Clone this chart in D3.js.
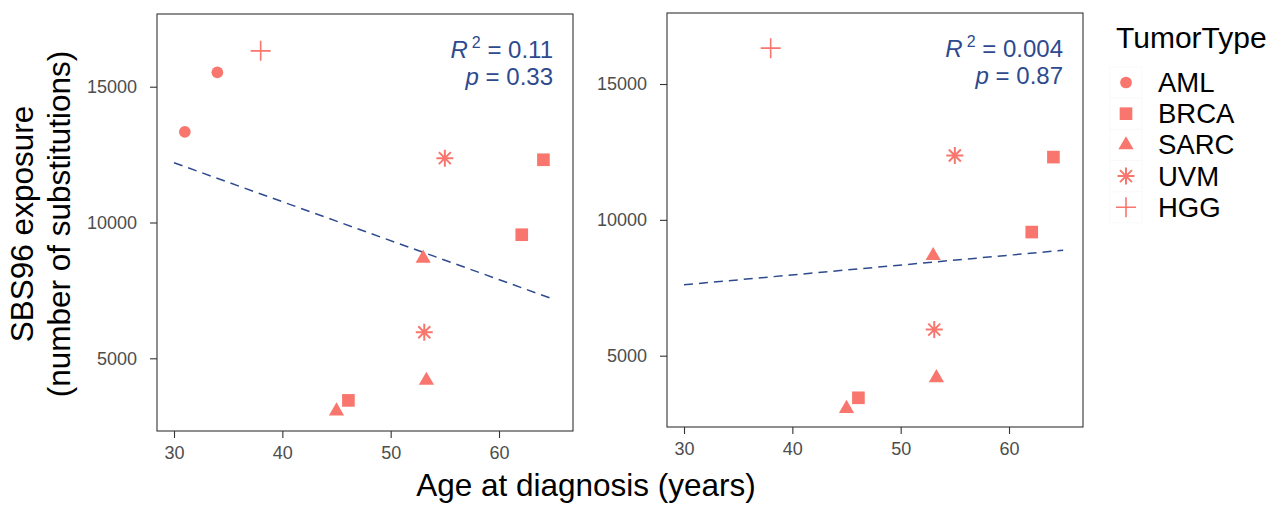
<!DOCTYPE html>
<html>
<head>
<meta charset="utf-8">
<script src="https://cdn.jsdelivr.net/npm/d3@7"></script>
<style>
  body { margin: 0; background: #fff; }
  text { font-family: "Liberation Sans", Arial, sans-serif; }
</style>
</head>
<body>
<div id="chart"></div>
<script>
// data
const age = [31, 34, 38, 55, 64.1, 62.1, 53, 53.1, 53.3, 46.1, 45];
const exposure = [13340, 15530, 16320, 12370, 12310, 9550, 8680, 5960, 4185, 3450, 3055];
const tumorType = ["AML", "AML", "HGG", "UVM", "BRCA", "BRCA", "SARC", "UVM", "SARC", "BRCA", "SARC"];
const legendTypes = ["AML", "BRCA", "SARC", "UVM", "HGG"];
const xTicks = [30, 40, 50, 60];
const yTicks = [5000, 10000, 15000];
const fitAge = [30, 65];
const fitLeft = [12200, 7180];
const fitRight = [7610, 8880];
const statsLeft = ["0.11", "0.33"];
const statsRight = ["0.004", "0.87"];

const width = 1281;
const height = 506;
const pointColor = "#F8766D";
const lineColor = "#2E4A8E";

const svg = d3.select("#chart")
  .append("svg")
  .attr("width", width)
  .attr("height", height);

// symbol for each tumor type
const symbolPath = function(type) {
  if (type === "AML") return d3.symbol(d3.symbolCircle, 108)();
  if (type === "BRCA") return d3.symbol(d3.symbolSquare, 160)();
  if (type === "SARC") return d3.symbol(d3.symbolTriangle, 100)();
  if (type === "UVM") return "M-8.5,0H8.5M0,-8.5V8.5M-6,-6L6,6M-6,6L6,-6";
  return "M-10,0H10M0,-10V10";
};
const isLine = (type) => type === "UVM" || type === "HGG";

const drawSymbol = function(sel) {
  sel.attr("d", (d) => symbolPath(d))
    .attr("fill", (d) => isLine(d) ? "none" : pointColor)
    .attr("stroke", (d) => isLine(d) ? pointColor : "none")
    .attr("stroke-width", (d) => d === "UVM" ? 2 : 1.6);
};

// one facet panel
function drawPanel(box, yDomain, rows, fit, stats) {
  const x = d3.scaleLinear().domain([28.43, 66.83]).range([box.left, box.right]);
  const y = d3.scaleLinear().domain(yDomain).range([box.bottom, box.top]);

  const g = svg.append("g");

  g.append("rect")
    .attr("x", box.left).attr("y", box.top)
    .attr("width", box.right - box.left).attr("height", box.bottom - box.top)
    .attr("fill", "#fff").attr("stroke", "#333").attr("stroke-width", 1.1);

  const xAxis = g.append("g")
    .attr("transform", `translate(0,${box.bottom})`)
    .call(d3.axisBottom(x).tickValues(xTicks).tickSize(7).tickPadding(8).tickFormat(d3.format("d")));
  const yAxis = g.append("g")
    .attr("transform", `translate(${box.left},0)`)
    .call(d3.axisLeft(y).tickValues(yTicks).tickSize(7).tickPadding(13).tickFormat(d3.format("d")));

  [xAxis, yAxis].forEach((a) => {
    a.select(".domain").remove();
    a.selectAll(".tick line").attr("stroke", "#333").attr("stroke-width", 1.1);
    a.selectAll(".tick text").attr("fill", "#4D4D4D").attr("font-size", "18px")
      .attr("font-family", "Liberation Sans, Arial, sans-serif");
  });

  // regression line
  g.append("line")
    .attr("x1", x(fitAge[0])).attr("y1", y(fit[0]))
    .attr("x2", x(fitAge[1])).attr("y2", y(fit[1]))
    .attr("stroke", lineColor).attr("stroke-width", 1.5)
    .attr("stroke-dasharray", "9,6");

  // points
  g.selectAll(".pt")
    .data(rows)
    .enter()
    .append("path")
    .attr("class", "pt")
    .attr("transform", (i) => `translate(${x(age[i])},${y(exposure[i])})`)
    .datum((i) => tumorType[i])
    .call(drawSymbol);

  // R2 and p annotation
  const t1 = g.append("text")
    .attr("x", box.right - 20).attr("y", box.top + 44)
    .attr("text-anchor", "end").attr("font-size", "24px").attr("fill", lineColor);
  t1.append("tspan").attr("font-style", "italic").text("R");
  t1.append("tspan").attr("font-size", "16px").attr("dy", -10).attr("dx", 4).text("2");
  t1.append("tspan").attr("dy", 10).text(" = " + stats[0]);

  const t2 = g.append("text")
    .attr("x", box.right - 20).attr("y", box.top + 71)
    .attr("text-anchor", "end").attr("font-size", "24px").attr("fill", lineColor);
  t2.append("tspan").attr("font-style", "italic").text("p");
  t2.append("tspan").text(" = " + stats[1]);
}

const allRows = d3.range(age.length);
drawPanel({left: 157, right: 573, top: 14, bottom: 431}, [2323, 17677], allRows, fitLeft, statsLeft);
drawPanel({left: 667, right: 1083, top: 13, bottom: 427}, [2375, 17614],
  allRows.filter((i) => tumorType[i] !== "AML"), fitRight, statsRight);

// axis titles
svg.append("text")
  .attr("x", 586).attr("y", 496)
  .attr("text-anchor", "middle").attr("font-size", "31.5px").attr("fill", "#000")
  .text("Age at diagnosis (years)");

svg.append("text")
  .attr("transform", "translate(33,224) rotate(-90)")
  .attr("text-anchor", "middle").attr("font-size", "31.5px").attr("fill", "#000")
  .text("SBS96 exposure");
svg.append("text")
  .attr("transform", "translate(70,224) rotate(-90)")
  .attr("text-anchor", "middle").attr("font-size", "31.5px").attr("fill", "#000")
  .text("(number of substitutions)");

// legend
svg.append("text")
  .attr("x", 1116).attr("y", 48)
  .attr("font-size", "30px").attr("fill", "#000")
  .text("TumorType");

const legend = svg.selectAll(".leg")
  .data(legendTypes)
  .enter()
  .append("g")
  .attr("class", "leg")
  .attr("transform", (d, i) => `translate(1126,${82.5 + i * 31.2})`);

legend.append("rect")
  .attr("x", -16).attr("y", -15.5).attr("width", 32).attr("height", 31)
  .attr("fill", "#fff").attr("stroke", "#f9f9f9");
legend.append("path").call(drawSymbol);
legend.append("text")
  .attr("x", 32).attr("y", 9.5)
  .attr("font-size", "27.5px").attr("fill", "#000")
  .text((d) => d);
</script>
</body>
</html>
